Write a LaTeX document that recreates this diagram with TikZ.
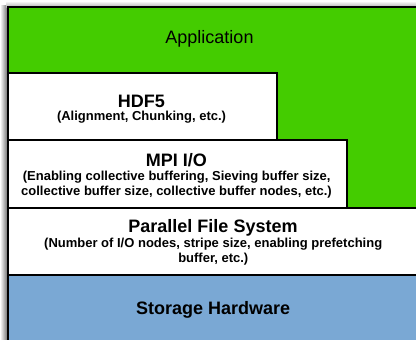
\documentclass[tikz,border=0pt]{standalone}
\usepackage{fontspec}
\setmainfont{Liberation Sans}
\definecolor{appgreen}{RGB}{68,204,0}
\definecolor{storeblue}{RGB}{122,168,212}
\begin{document}
\begin{tikzpicture}[x=1pt,y=-1pt,
  layer/.style={draw=black, line width=1.4pt},
  apptext/.style={font=\fontsize{18}{20}\selectfont, anchor=base, inner sep=0pt},
  title/.style={font=\fontsize{18}{20}\selectfont\bfseries, anchor=base, inner sep=0pt},
  sub/.style={font=\fontsize{13}{15}\selectfont\bfseries, anchor=base, inner sep=0pt}]
\useasboundingbox (0,0) rectangle (416,340);
% soft drop shadow along the left and top edges of the stack
\shade[left color=white, right color=black!60] (0,5) rectangle (8,345);
\shade[top color=white, bottom color=black!30] (6,1) rectangle (420,7);
% application background
\fill[appgreen] (8,7) rectangle (420,345);
% stacked layers
\draw[layer, fill=storeblue] (8,275) rectangle (420,345);
\draw[layer, fill=white] (8,208) rectangle (420,275);
\draw[layer, fill=white] (8,140) rectangle (347,208);
\draw[layer, fill=white] (8,73) rectangle (277,140);
% outer frame
\draw[line width=2pt] (8,345) -- (8,7) -- (420,7);
% labels
\node[apptext] (app) at (209.5,44) {Application};
\node[title] (hdf) at (141.5,107.5) {HDF5};
\node[sub] (hdfsub) at (141.5,120.7) {(Alignment, Chunking, etc.)};
\node[title] (mpi) at (176.5,166.5) {MPI I/O};
\node[sub] (mpisubA) at (176.7,180.5) {(Enabling collective buffering, Sieving buffer size,};
\node[sub] (mpisubB) at (176.5,195) {collective buffer size, collective buffer nodes, etc.)};
\node[title] (pfs) at (213,232.5) {Parallel File System};
\node[sub] (pfssubA) at (213.2,247.7) {(Number of I/O nodes, stripe size, enabling prefetching};
\node[sub] (pfssubB) at (213.3,262.7) {buffer, etc.)};
\node[title] (hw) at (213.2,314) {Storage Hardware};
\end{tikzpicture}
\end{document}
